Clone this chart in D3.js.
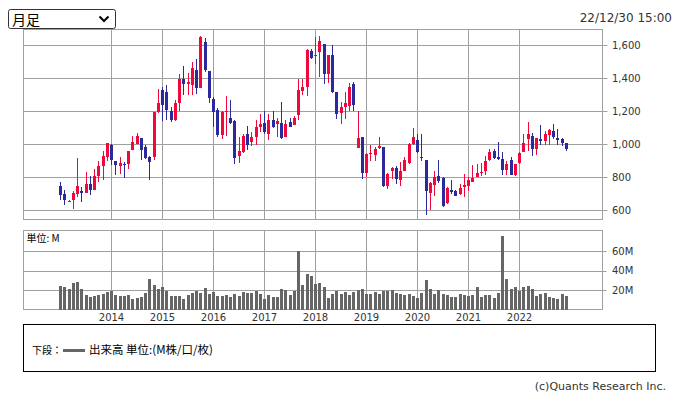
<!DOCTYPE html>
<html><head><meta charset="utf-8">
<script src="https://cdn.jsdelivr.net/npm/d3@7"></script>
<style>body{margin:0;background:#fff}svg{display:block}</style>
</head><body><svg id="c" width="677" height="398"></svg>
<script>
const open  = [751,701,653,661,701,721,705,758,723,808,867,923, 994,897,867,883,879,968,1004,1040,984,923,923,1200, 1331,1321,1206,1150,1250,1398,1368,1362,1453,1343,1620,1444, 1277,1212,1057,1202,1162,1141,933,953,1061,1014,1048,1105, 1131,1065,1150,1125,1131,1044,1135,1119,1176,1323,1351,1566, 1541,1560,1610,1428,1545,1317,1190,1230,1236,1368,980,1044, 826,947,939,978,984,747,838,857,786,842,887,1004, 1030,927,909,705,756,812,796,644,727,721,697,741, 751,772,802,826,842,909,963,923,913,846,907,816, 889,953,1034,1053,974,1034,1024,1059,1079,1040,1034,1008];
const high  = [772,725,661,717,917,741,836,812,849,903,963,1012, 1004,903,923,893,959,1054,1069,1040,994,933,1200,1337, 1351,1358,1226,1267,1428,1473,1432,1497,1519,1660,1646,1448, 1287,1222,1206,1291,1267,1146,1044,1065,1115,1075,1150,1182, 1206,1186,1206,1162,1256,1150,1162,1170,1398,1398,1580,1580, 1654,1660,1610,1545,1606,1317,1256,1317,1372,1378,1202,1048, 947,1000,984,1048,984,826,863,867,893,923,1008,1101, 1065,1061,909,772,842,909,802,741,782,725,762,822, 802,873,879,887,933,974,974,1018,957,899,923,879, 953,1065,1139,1069,1040,1121,1081,1095,1125,1095,1038,1012];
const low   = [661,635,651,608,681,651,705,695,723,772,786,899, 873,816,822,796,853,968,1004,907,913,782,909,1190, 1141,1146,1135,1141,1206,1297,1297,1297,1307,1341,1438,1251, 1105,1048,1032,1054,1125,883,887,947,968,988,994,1075, 1065,1028,1101,1048,1034,1044,1109,1119,1146,1303,1293,1519, 1489,1408,1368,1372,1311,1155,1125,1155,1206,1206,980,792, 802,899,899,974,745,731,792,762,751,838,883,994, 947,903,574,606,687,766,620,640,701,687,695,681, 721,772,802,812,818,903,913,907,816,816,816,812, 883,953,959,929,937,994,1000,1000,1034,994,990,959];
const close = [695,665,659,707,751,705,758,723,812,869,933,1012, 907,873,887,877,959,1018,1054,968,917,893,1200,1250, 1242,1212,1150,1250,1394,1368,1378,1463,1341,1650,1453,1281, 1196,1059,1198,1206,1131,917,963,1053,994,1048,1109,1125, 1075,1146,1105,1141,1040,1125,1109,1162,1333,1351,1570,1525, 1545,1630,1428,1545,1317,1186,1226,1250,1351,1242,1038,826, 943,951,974,988,751,822,857,792,842,909,1004,1048, 953,917,717,766,802,778,626,737,711,687,737,754, 782,796,826,836,903,957,917,913,846,879,816,879, 949,1012,1065,974,1040,1020,1061,1085,1044,1028,1010,974];
const volume = [24,23,21,27,28,21,15,13,14,15,16,18, 19,15,14,14,15,11,12,13,17,31,25,21, 23,19,14,14,14,11,15,17,19,17,22,16, 18,14,14,15,13,16,14,18,17,17,19,16, 11,15,13,13,21,20,15,19,60,25,36,34, 26,27,23,12,16,19,16,18,15,18,20,21, 16,16,18,16,19,19,20,17,16,15,16,14, 12,17,30,21,16,20,16,15,13,13,16,15, 14,15,23,13,15,15,12,17,75,31,21,23, 19,23,24,21,14,16,17,13,12,11,16,14];
const startYear = 2013;
const yearLabels = ["2014","2015","2016","2017","2018","2019","2020","2021","2022"];
const priceTicks = [600,800,1000,1200,1400,1600];
const volumeTicks = [20,40,60];
const periodLabel = "月足";
const timestamp = "22/12/30 15:00";
const volumeUnit = "単位: M";
const legendPrefix = "下段：";
const legendText = "出来高 単位:(M株/口/枚)";
const credit = "(c)Quants Research Inc.";

const svg = d3.select("#c");
const L = 23.5, R = 602.5;
const mainTop = 29.5, mainBot = 219.5;
const volTop = 230.5, volBot = 309.5;
const UP = "#f0083c", DOWN = "#2a2a9c", GRID = "#a0a0a0", TXT = "#333";
const latin = "'DejaVu Sans', 'Noto Sans CJK JP', sans-serif";
const cjk = "'Noto Sans CJK JP', 'DejaVu Sans', sans-serif";

const n = close.length;
const x = d3.scaleLinear().domain([0, n - 1]).range([60.5, 60.5 + 4.25 * (n - 1)]);
const y = d3.scaleLinear().domain([600, 1600]).range([210.5, 45.5]);
const yv = d3.scaleLinear().domain([0, 80]).range([volBot, volBot - 78]);
const yearIdx = yearLabels.map(s => (+s - startYear) * 12);

// select box
svg.append("rect").attr("x", 8.5).attr("y", 9.5).attr("width", 107).attr("height", 19).attr("rx", 2)
  .attr("fill", "#fff").attr("stroke", "#333");
svg.append("text").attr("x", 12).attr("y", 24.5).attr("font-family", cjk).attr("font-size", 14).attr("fill", "#000").text(periodLabel);
svg.append("path").attr("d", "M99.5,16.5 L104,21 L108.5,16.5").attr("fill", "none").attr("stroke", "#000").attr("stroke-width", 2);
svg.append("text").attr("x", 672).attr("y", 21.5).attr("text-anchor", "end").attr("font-family", latin).attr("font-size", 12).attr("fill", TXT).text(timestamp);

// main panel
const gm = svg.append("g");
gm.append("rect").attr("x", L).attr("y", mainTop).attr("width", R - L).attr("height", mainBot - mainTop).attr("fill", "#fff").attr("stroke", GRID);
gm.selectAll(".hg").data(priceTicks).join("line").attr("x1", L).attr("x2", R + 5).attr("y1", d => y(d)).attr("y2", d => y(d)).attr("stroke", GRID);
gm.selectAll(".vg").data(yearIdx).join("line").attr("x1", d => x(d)).attr("x2", d => x(d)).attr("y1", mainTop).attr("y2", mainBot).attr("stroke", GRID);
gm.selectAll(".pl").data(priceTicks).join("text").attr("x", 612).attr("y", d => y(d) + 3.5)
  .attr("font-family", latin).attr("font-size", 10).attr("fill", TXT).text(d => d3.format(",")(d));

const candles = d3.range(n).map(i => ({i, o: open[i], h: high[i], l: low[i], c: close[i]}));
const cg = gm.append("g").attr("shape-rendering", "crispEdges");
cg.selectAll(".w").data(candles).join("line")
  .attr("x1", d => x(d.i)).attr("x2", d => x(d.i)).attr("y1", d => y(d.h)).attr("y2", d => y(d.l))
  .attr("stroke", d => d.c >= d.o ? UP : DOWN).attr("stroke-width", 1);
cg.selectAll(".b").data(candles).join("rect")
  .attr("x", d => x(d.i) - 1.5).attr("width", 3)
  .attr("y", d => y(Math.max(d.o, d.c))).attr("height", d => Math.max(1, Math.abs(y(d.o) - y(d.c))))
  .attr("fill", d => d.c >= d.o ? UP : DOWN);

// volume panel
const gv = svg.append("g");
gv.append("rect").attr("x", L).attr("y", volTop).attr("width", R - L).attr("height", volBot - volTop).attr("fill", "#fff").attr("stroke", GRID);
gv.selectAll(".hg").data(volumeTicks).join("line").attr("x1", L).attr("x2", R + 4).attr("y1", d => Math.round(yv(d)) + 0.5).attr("y2", d => Math.round(yv(d)) + 0.5).attr("stroke", GRID);
gv.selectAll(".vg").data(yearIdx).join("line").attr("x1", d => x(d)).attr("x2", d => x(d)).attr("y1", volTop).attr("y2", volBot).attr("stroke", GRID);
gv.append("g").attr("shape-rendering", "crispEdges").selectAll("rect").data(volume).join("rect")
  .attr("x", (d, i) => x(i) - 1.5).attr("width", 3).attr("y", d => yv(d)).attr("height", d => volBot - yv(d)).attr("fill", "#666");
gv.selectAll(".vl").data(volumeTicks).join("text").attr("x", 612).attr("y", d => yv(d) + 3.5)
  .attr("font-family", latin).attr("font-size", 10).attr("fill", TXT).text(d => d + "M");
gv.append("text").attr("x", 26.5).attr("y", 242).attr("font-family", cjk).attr("font-size", 10).attr("fill", "#000").text(volumeUnit);
gv.selectAll(".xl").data(yearIdx).join("text").attr("x", d => x(d)).attr("y", 321).attr("text-anchor", "middle")
  .attr("font-family", latin).attr("font-size", 10).attr("fill", TXT).text((d, i) => yearLabels[i]);

// legend
svg.append("rect").attr("x", 23.5).attr("y", 324.5).attr("width", 632).attr("height", 47).attr("fill", "none").attr("stroke", "#000");
svg.append("text").attr("x", 32).attr("y", 354).attr("font-family", cjk).attr("font-size", 10).attr("fill", "#000").text(legendPrefix);
svg.append("line").attr("x1", 63).attr("x2", 85).attr("y1", 350.5).attr("y2", 350.5).attr("stroke", "#666").attr("stroke-width", 3);
svg.append("text").attr("x", 89).attr("y", 354).attr("font-family", cjk).attr("font-size", 11.5).attr("fill", "#000").text(legendText);
svg.append("text").attr("x", 666).attr("y", 390).attr("text-anchor", "end").attr("font-family", latin).attr("font-size", 11).attr("fill", TXT).text(credit);
</script></body></html>
